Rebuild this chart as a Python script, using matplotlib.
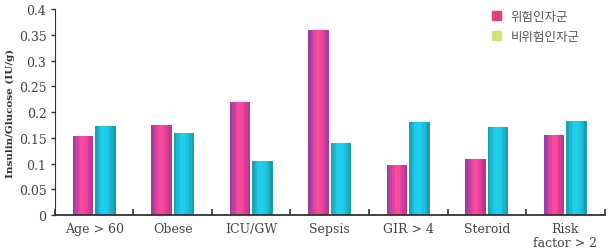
import numpy as np
import matplotlib.pyplot as plt
from matplotlib.colors import LinearSegmentedColormap

categories = ["Age > 60", "Obese", "ICU/GW", "Sepsis", "GIR > 4", "Steroid", "Risk\nfactor > 2"]
risk = [0.153, 0.175, 0.219, 0.359, 0.097, 0.109, 0.155]
nonrisk = [0.173, 0.159, 0.105, 0.140, 0.181, 0.171, 0.183]
legend_labels = ["위험인자군", "비위험인자군"]
yticks = [0, 0.05, 0.1, 0.15, 0.2, 0.25, 0.3, 0.35, 0.4]
ytick_labels = ["0", "0.05", "0.1", "0.15", "0.2", "0.25", "0.3", "0.35", "0.4"]

pink_cmap = LinearSegmentedColormap.from_list("pink", ["#9a3fa8", "#e0409a", "#ff4fa0", "#e83d96", "#b0399f"])
cyan_cmap = LinearSegmentedColormap.from_list("cyan", ["#1aa5b5", "#1ec8e8", "#22d0f0", "#1bbfe0", "#17a0a8"])


def striped_bars(ax, x, heights, width, cmap, n=8):
    # draw each bar as thin vertical strips to mimic the shaded look
    x = np.asarray(x, dtype=float)
    sw = width / n
    for i in range(n):
        ax.bar(x - width / 2 + sw * (i + 0.5), heights, sw, color=cmap(i / (n - 1)),
               linewidth=0, zorder=2)


fig = plt.figure(figsize=(6.09, 2.51), dpi=100)
ax = fig.add_axes([0.090, 0.139, 0.903, 0.821])

x = np.arange(len(categories))
w = 0.26
striped_bars(ax, x - 0.143, risk, w, pink_cmap)
striped_bars(ax, x + 0.143, nonrisk, w, cyan_cmap)

ax.set_xlim(-0.5, len(categories) - 0.5)
ax.set_ylim(0, 0.4)
ax.set_yticks(yticks)
ax.set_yticklabels(ytick_labels, family="DejaVu Serif", fontsize=9, color="#444444")
ax.set_xticks(np.arange(len(categories) + 1) - 0.5)
ax.set_xticklabels([])
ax.set_xticks(x, minor=True)
ax.set_xticklabels(categories, minor=True, family="DejaVu Serif", fontsize=9,
                   color="#444444", linespacing=1.1)
ax.tick_params(axis="x", which="major", direction="in", length=4, width=1.2, color="#333333")
ax.tick_params(axis="x", which="minor", length=0, pad=5)
ax.tick_params(axis="y", direction="out", length=3, width=1, color="#333333", pad=3)
for s in ["top", "right"]:
    ax.spines[s].set_visible(False)
ax.spines["left"].set_color("#333333")
ax.spines["bottom"].set_color("#333333")
ax.spines["bottom"].set_linewidth(1.3)

ax.set_ylabel("Insulin/Glucose (IU/g)", family="DejaVu Serif", fontsize=7.5,
              fontweight="bold", color="#333333", labelpad=3)

h1 = plt.Rectangle((0, 0), 1, 1, color="#e0407f")
h2 = plt.Rectangle((0, 0), 1, 1, color="#d4e07a")
leg = ax.legend([h1, h2], legend_labels, loc="upper right", bbox_to_anchor=(0.975, 1.05),
                frameon=False, handlelength=0.7, handleheight=0.7,
                handletextpad=0.8, labelspacing=0.55,
                prop={"family": ["Noto Sans CJK KR", "DejaVu Sans"], "size": 9})
for t in leg.get_texts():
    t.set_color("#555555")

fig.savefig("out.png", dpi=100)
